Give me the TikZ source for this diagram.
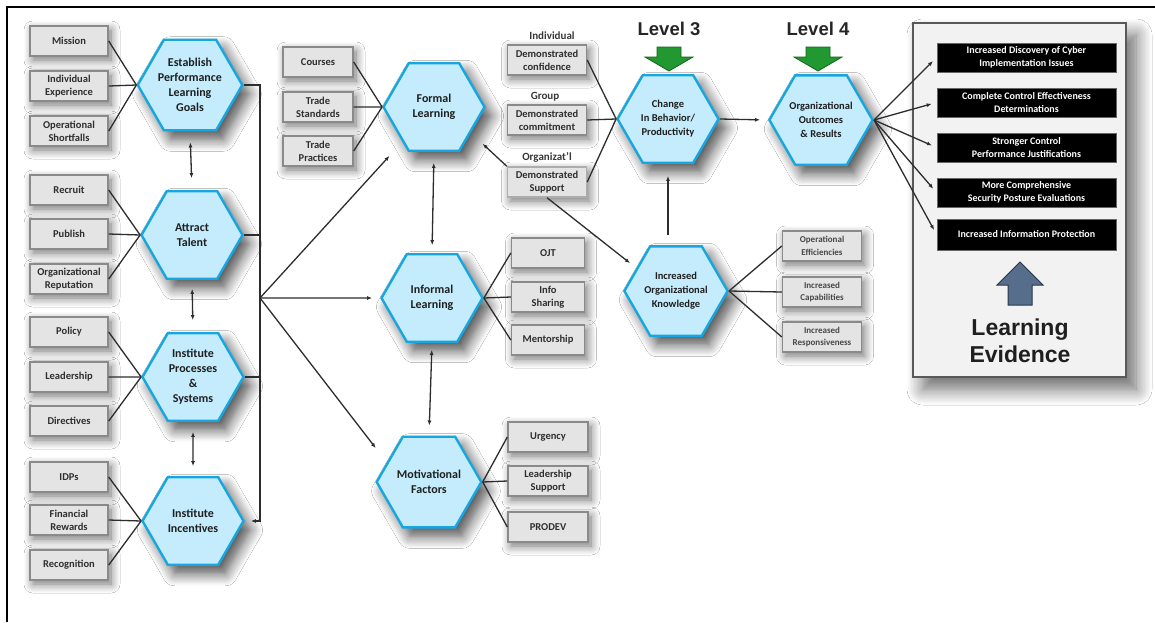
\documentclass[tikz,border=0pt]{standalone}
\usepackage{fontspec}
\setmainfont{Carlito}
\newfontfamily\arialfont{Liberation Sans}
\usetikzlibrary{shapes.geometric,arrows.meta,shadows.blur}

\definecolor{hexfill}{RGB}{196,236,252}
\definecolor{hexline}{RGB}{24,166,224}
\definecolor{boxfill}{RGB}{228,228,228}
\definecolor{boxline}{RGB}{138,138,138}
\definecolor{wire}{RGB}{45,45,45}
\definecolor{panelfill}{RGB}{242,242,242}
\definecolor{lvlgreen}{RGB}{34,152,48}
\definecolor{lvlgreendark}{RGB}{20,100,30}
\definecolor{slate}{RGB}{86,110,140}
\definecolor{slatedark}{RGB}{40,55,75}

\tikzset{
  hexnode/.style={regular polygon, regular polygon sides=6, minimum size=101pt,
    inner sep=0pt, draw=hexline, line width=2.4pt, fill=hexfill, align=center,
    text=black!88, font=\bfseries\fontsize{12}{15}\selectfont,
    blur shadow={shadow xshift=7pt, shadow yshift=-9pt, shadow blur radius=12pt,
      shadow blur steps=10, shadow opacity=70}},
  hexsmall/.style={hexnode, font=\bfseries\fontsize{10.5}{14}\selectfont},
  graybox/.style={draw=boxline, line width=1.4pt, fill=boxfill, minimum width=78pt,
    minimum height=30pt, inner sep=1pt, align=center, text=black!82,
    font=\bfseries\fontsize{10.5}{13}\selectfont,
    blur shadow={shadow xshift=3pt, shadow yshift=-4pt, shadow blur radius=9pt,
      shadow blur steps=10, shadow opacity=55}},
  thinbox/.style={graybox, font=\bfseries\fontsize{9}{12.5}\selectfont, text=black!72},
  blackbox/.style={draw=black!60, line width=1pt, fill=black, text=white,
    minimum width=179pt, minimum height=29pt, inner sep=1pt, align=center,
    font=\bfseries\fontsize{10}{12.5}\selectfont},
  panel/.style={draw=black!65, line width=1.5pt, fill=panelfill, minimum width=213pt,
    minimum height=354pt,
    blur shadow={shadow xshift=10pt, shadow yshift=-12pt, shadow blur radius=16pt,
      shadow blur steps=12, shadow opacity=60}},
  wireline/.style={draw=wire, line width=1.3pt},
  arr/.style={wireline, -{Latex[length=5pt,width=4pt]}},
  darr/.style={wireline, {Latex[length=5pt,width=4pt]}-{Latex[length=5pt,width=4pt]}},
  tag/.style={font=\bfseries\fontsize{11}{12}\selectfont, text=black!78, inner sep=1pt},
  lvl/.style={font=\arialfont\bfseries\fontsize{18.5}{20}\selectfont, text=black!85},
}

\begin{document}
\begin{tikzpicture}[x=1pt, y=-1pt]
\useasboundingbox (0,0) rectangle (1155,622);
\fill[white] (0,0) rectangle (1155,622);

% outer frame
\draw[line width=1.8pt] (7,622) -- (7,7) -- (1155,7);

% evidence panel
\node[panel] (ev) at (1019.5,200) {};

% ---------- left column: inputs ----------
\node[graybox] (mis)   at (69,41)  {Mission};
\node[graybox] (iexp)  at (69,86)  {Individual\\Experience};
\node[graybox] (opsh)  at (69,131) {Operational\\Shortfalls};
\node[graybox] (rec)   at (69,190) {Recruit};
\node[graybox] (pub)   at (69,234) {Publish};
\node[graybox] (orep)  at (69,279) {Organizational\\Reputation};
\node[graybox] (pol)   at (69,332) {Policy};
\node[graybox] (lead)  at (69,377) {Leadership};
\node[graybox] (dir)   at (69,421) {Directives};
\node[graybox] (idp)   at (69,477) {IDPs};
\node[graybox] (finr)  at (69,520) {Financial\\Rewards};
\node[graybox] (recog) at (69,565) {Recognition};

\node[hexnode] (est)  at (190,85)  {Establish\\Performance\\Learning\\Goals};
\node[hexnode] (att)  at (192,235) {Attract\\Talent};
\node[hexnode] (proc) at (193,377) {Institute\\Processes\\\&\\Systems};
\node[hexnode] (inc)  at (193,521) {Institute\\Incentives};

% ---------- middle column: learning ----------
\node[graybox, minimum width=70pt] (cour) at (318,62)  {Courses};
\node[graybox, minimum width=70pt] (tstd) at (318,107) {Trade\\Standards};
\node[graybox, minimum width=70pt] (tpra) at (318,151) {Trade\\Practices};

\node[hexnode] (formal)   at (434,107) {Formal\\Learning};
\node[hexnode] (informal) at (432,298) {Informal\\Learning};
\node[hexnode] (motiv)    at (429,482) {Motivational\\Factors};

\node[graybox, minimum width=73pt] (ojt)  at (548,253) {OJT};
\node[graybox, minimum width=73pt] (info) at (548,297) {Info\\Sharing};
\node[graybox, minimum width=73pt] (ment) at (548,340) {Mentorship};

\node[graybox, minimum width=80pt] (urg)  at (548,437) {Urgency};
\node[graybox, minimum width=80pt] (lsup) at (548,481) {Leadership\\Support};
\node[graybox, minimum width=80pt] (prod) at (548,527) {PRODEV};

% ---------- level 3 / level 4 ----------
\node[tag] (tind) at (552,36)  {Individual};
\node[tag] (tgrp) at (545,97)  {Group};
\node[graybox, minimum width=79pt] (conf) at (547,60)  {Demonstrated\\confidence};
\node[graybox, minimum width=79pt] (comm) at (547,120) {Demonstrated\\commitment};
\node[graybox, minimum width=79pt, draw=boxline!70] (supp) at (547,182) {Demonstrated\\Support};
\node[tag, fill=white] (torg) at (547,157) {Organizat'l};

\node[hexsmall] (change) at (668,119) {Change\\In Behavior/\\Productivity};
\node[hexsmall] (know)   at (676,291) {Increased\\Organizational\\Knowledge};
\node[hexsmall] (outc)   at (821,120) {Organizational\\Outcomes\\\& Results};

\node[thinbox, minimum width=79pt] (opef)  at (822,246) {Operational\\Efficiencies};
\node[thinbox, minimum width=79pt] (icap)  at (822,292) {Increased\\Capabilities};
\node[thinbox, minimum width=79pt] (iresp) at (822,337) {Increased\\Responsiveness};

\node[lvl] (lv3) at (669,29) {Level 3};
\node[lvl] (lv4) at (818,29) {Level 4};
\foreach \cx in {669,818} {
  \filldraw[fill=lvlgreen, draw=lvlgreendark, line width=0.8pt]
    (\cx-12,47) -- (\cx+12,47) -- (\cx+12,57) -- (\cx+24,57) -- (\cx,71)
    -- (\cx-24,57) -- (\cx-12,57) -- cycle;
}

% ---------- learning evidence ----------
\node[blackbox] (b1) at (1026.5,57.5)  {Increased Discovery of Cyber\\Implementation Issues};
\node[blackbox] (b2) at (1026.5,102.5) {Complete Control Effectiveness\\Determinations};
\node[blackbox] (b3) at (1026.5,147.5) {Stronger Control\\Performance Justifications};
\node[blackbox] (b4) at (1026.5,192.5) {More Comprehensive\\Security Posture Evaluations};
\node[blackbox, minimum height=31pt] (b5) at (1026.5,234.5) {Increased Information Protection};

\filldraw[fill=slate, draw=slatedark, line width=1pt]
  (1020,262) -- (1043,285) -- (1032,285) -- (1032,305) -- (1008,305)
  -- (1008,285) -- (997,285) -- cycle;
\node[font=\arialfont\bfseries\fontsize{23}{27}\selectfont, text=black!88, align=center]
  (evtxt) at (1020,341) {Learning\\Evidence};

% ---------- connectors ----------
\foreach \b in {mis,iexp,opsh} \draw[wireline] (\b.east) -- (est.west);
\foreach \b in {rec,pub,orep} \draw[wireline] (\b.east) -- (att.west);
\foreach \b in {pol,lead,dir} \draw[wireline] (\b.east) -- (proc.west);
\foreach \b in {idp,finr,recog} \draw[wireline] (\b.east) -- (inc.west);

\draw[darr, shorten <=11pt, shorten >=12pt] (est.south) -- (att.north);
\draw[darr, shorten <=9pt, shorten >=12pt] (att.south) -- (proc.north);
\draw[darr, shorten <=10pt, shorten >=10pt] (proc.south) -- (inc.north);

% collecting bus
\coordinate (hub) at (260,298);
\draw[wireline] (est.east) -| (hub);
\draw[arr, shorten >=6pt] (hub) |- (inc.east);
\draw[wireline] (att.east) -- (att.east -| hub);
\draw[wireline] (proc.east) -- (proc.east -| hub);

\draw[arr, shorten >=19pt] (hub) -- (formal);
\draw[arr, shorten >=8pt] (hub) -- (informal.west);
\draw[arr, shorten >=18pt] (hub) -- (motiv.155);

\foreach \b in {cour,tstd,tpra} \draw[wireline] (\b.east) -- (formal.west);
\foreach \b in {ojt,info,ment} \draw[wireline] (informal.east) -- (\b.west);
\foreach \b in {urg,lsup,prod} \draw[wireline] (motiv.east) -- (\b.west);

\draw[darr, shorten <=11pt, shorten >=8pt] (formal.south) -- (informal.north);
\draw[darr, shorten <=7pt, shorten >=10pt] (informal.south) -- (motiv.north);

\foreach \b in {conf,comm,supp} \draw[wireline] (\b.east) -- (change.west);
\draw[arr, shorten >=16pt] (supp.north west) -- (formal.-35);
\draw[arr, shorten >=8pt] (supp.south) -- (know.150);
\draw[arr, shorten <=10pt, shorten >=12pt] (know.north -| change.south) -- (change.south);

\foreach \b in {opef,icap,iresp} \draw[wireline] (know.east) -- (\b.west);

\draw[arr, shorten >=8pt] (change.east) -- (outc.west);
\foreach \b in {b1,b2,b3,b4,b5} \draw[arr, shorten >=5pt] (outc.east) -- (\b.west);

\end{tikzpicture}
\end{document}
